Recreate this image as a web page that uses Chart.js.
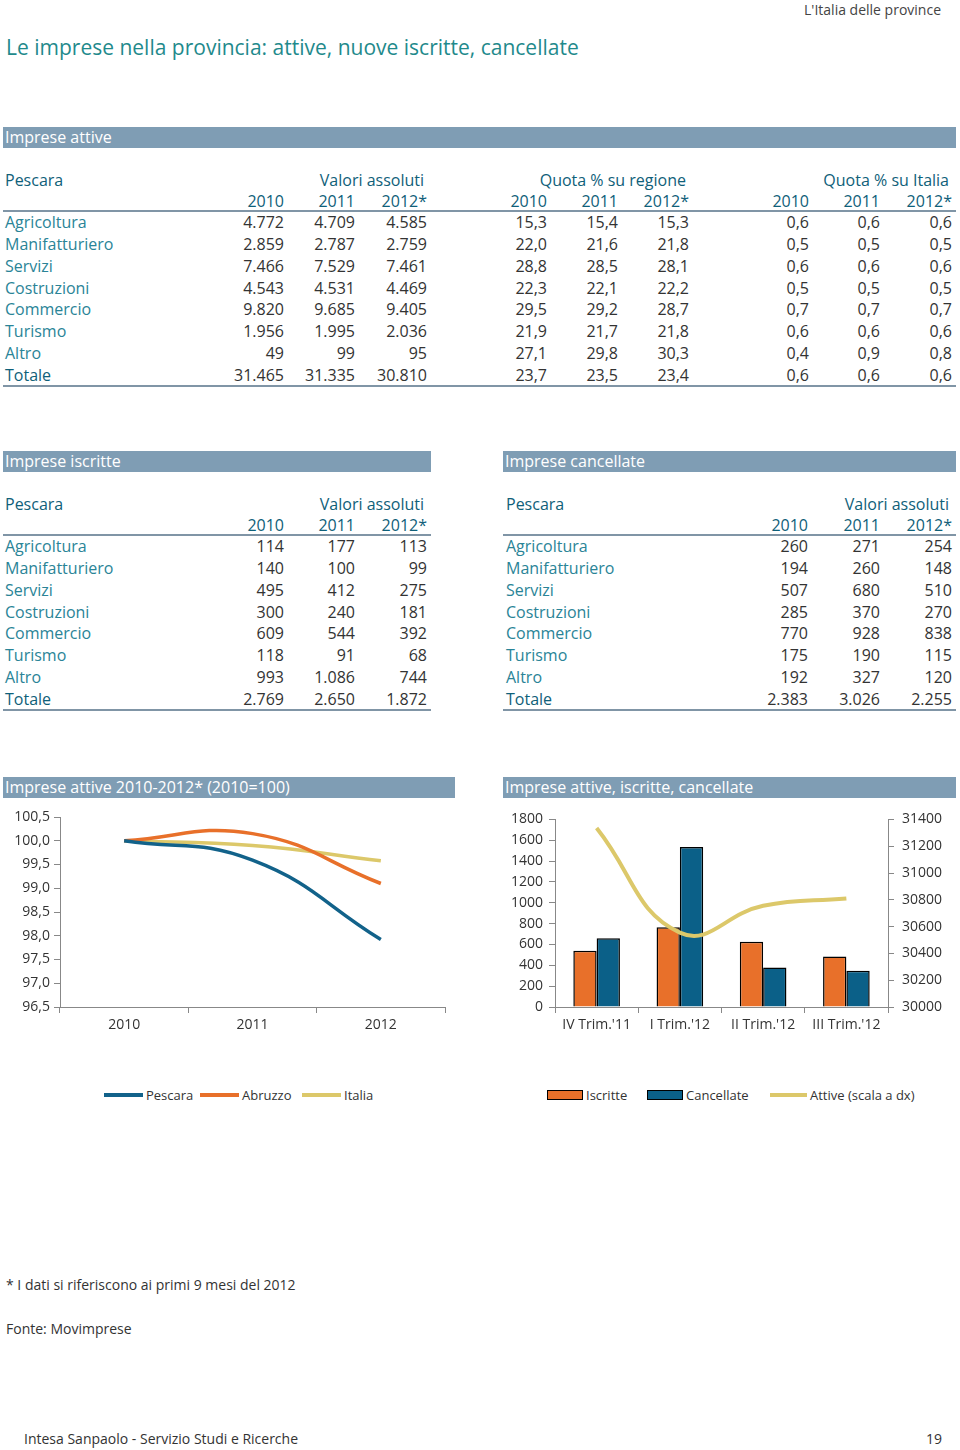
<!DOCTYPE html>
<html>
<head>
<meta charset="utf-8">
<script src="https://cdn.jsdelivr.net/npm/chart.js@4.4.1/dist/chart.umd.min.js"></script>
<style>
  body { margin: 0; width: 960px; height: 1450px; background: #fff; font-family: "Open Sans", "Noto Sans", sans-serif; position: relative; overflow: hidden; }
  .abs { position: absolute; white-space: nowrap; }
  .band { position: absolute; height: 21px; background: #7f9db4; color: #fff; font-size: 16px; line-height: 21px; padding-left: 2px; box-sizing: border-box; }
  .rule { position: absolute; height: 2px; background: #8095a6; }
  .lbl { color: #2a8497; font-size: 16px; }
  .hd { color: #0f6079; font-size: 16px; }
  .num { color: #333; font-size: 16px; text-align: right; }
  .leg { position: absolute; font-size: 13px; color: #333; display: flex; align-items: center; }
  .leg i { display: inline-block; margin-right: 3px; }
</style>
</head>
<body>
<div class="abs" style="right:19px; top:0px; font-size:14px; color:#444;">L'Italia delle province</div>
<div class="abs" style="left:6px; top:33px; font-size:21px; color:#1f8a8c;">Le imprese nella provincia: attive, nuove iscritte, cancellate</div>

<div id="page"></div>

<div class="abs" style="left:6px; top:1275px; font-size:14px; color:#333;">* I dati si riferiscono ai primi 9 mesi del 2012</div>
<div class="abs" style="left:6px; top:1319px; font-size:14px; color:#333;">Fonte: Movimprese</div>
<div class="abs" style="left:24px; top:1429px; font-size:14px; color:#333;">Intesa Sanpaolo - Servizio Studi e Ricerche</div>
<div class="abs" style="right:18px; top:1429px; font-size:14px; color:#333;">19</div>

<div class="band" style="left:3px; top:777px; width:452px;">Imprese attive 2010-2012* (2010=100)</div>
<div class="band" style="left:503px; top:777px; width:453px;">Imprese attive, iscritte, cancellate</div>
<div class="abs" style="left:0; top:803px; width:460px; height:237px;"><canvas id="lineChart"></canvas></div>
<div class="abs" style="left:500px; top:803px; width:460px; height:237px;"><canvas id="barChart"></canvas></div>

<div class="leg" style="left:104px; top:1086px;"><i style="width:39px;height:4px;background:#12628a"></i>Pescara</div>
<div class="leg" style="left:200px; top:1086px;"><i style="width:39px;height:4px;background:#e8702a"></i>Abruzzo</div>
<div class="leg" style="left:302px; top:1086px;"><i style="width:39px;height:4px;background:#dcc86a"></i>Italia</div>
<div class="leg" style="left:547px; top:1086px;"><i style="width:34px;height:8px;background:#e8702a;border:1px solid #000"></i>Iscritte</div>
<div class="leg" style="left:647px; top:1086px;"><i style="width:34px;height:8px;background:#0b6088;border:1px solid #000"></i>Cancellate</div>
<div class="leg" style="left:770px; top:1086px;"><i style="width:37px;height:4px;background:#dcc86a"></i>Attive (scala a dx)</div>

<script>
// ---- table data ----
const sectors = ['Agricoltura', 'Manifatturiero', 'Servizi', 'Costruzioni', 'Commercio', 'Turismo', 'Altro', 'Totale'];
const tableYears = ['2010', '2011', '2012*'];

const attiveAbs = [
  ['4.772', '4.709', '4.585'], ['2.859', '2.787', '2.759'], ['7.466', '7.529', '7.461'], ['4.543', '4.531', '4.469'],
  ['9.820', '9.685', '9.405'], ['1.956', '1.995', '2.036'], ['49', '99', '95'], ['31.465', '31.335', '30.810']
];
const attiveRegione = [
  ['15,3', '15,4', '15,3'], ['22,0', '21,6', '21,8'], ['28,8', '28,5', '28,1'], ['22,3', '22,1', '22,2'],
  ['29,5', '29,2', '28,7'], ['21,9', '21,7', '21,8'], ['27,1', '29,8', '30,3'], ['23,7', '23,5', '23,4']
];
const attiveItalia = [
  ['0,6', '0,6', '0,6'], ['0,5', '0,5', '0,5'], ['0,6', '0,6', '0,6'], ['0,5', '0,5', '0,5'],
  ['0,7', '0,7', '0,7'], ['0,6', '0,6', '0,6'], ['0,4', '0,9', '0,8'], ['0,6', '0,6', '0,6']
];
const iscritteAbs = [
  ['114', '177', '113'], ['140', '100', '99'], ['495', '412', '275'], ['300', '240', '181'],
  ['609', '544', '392'], ['118', '91', '68'], ['993', '1.086', '744'], ['2.769', '2.650', '1.872']
];
const cancellateAbs = [
  ['260', '271', '254'], ['194', '260', '148'], ['507', '680', '510'], ['285', '370', '270'],
  ['770', '928', '838'], ['175', '190', '115'], ['192', '327', '120'], ['2.383', '3.026', '2.255']
];

// ---- chart data ----
const indexYears = ['2010', '2011', '2012'];
const indexPescara = [100, 99.59, 97.92];
const indexAbruzzo = [100, 100.15, 99.1];
const indexItalia = [100, 99.9, 99.58];

const quarters = ["IV Trim.'11", "I Trim.'12", "II Trim.'12", "III Trim.'12"];
const iscritteQ = [540, 765, 625, 485];
const cancellateQ = [660, 1535, 378, 348];
const attiveQ = [31335, 30555, 30755, 30810];

// ---- build tables ----
const page = document.getElementById('page');
function el(cls, style, text) {
  const d = document.createElement('div');
  d.className = cls;
  d.style.cssText = style;
  if (text !== undefined) d.textContent = text;
  page.appendChild(d);
  return d;
}
function txt(cls, x, y, text, right) {
  // y is text centre
  const s = right ? `right:${960 - x}px;` : `left:${x}px;`;
  el('abs ' + cls, s + `top:${y - 11}px; line-height:22px;`, text);
}

function block(top, left, width, title, labelX, groups) {
  el('band', `left:${left}px; top:${top}px; width:${width}px;`, title);
  const yHead = top + 53, yYears = top + 74, y0 = top + 95, step = 21.85;
  txt('hd', labelX, yHead, 'Pescara');
  groups.forEach(g => {
    txt('hd', g.cols[2] - 3, yHead, g.head, true);
    tableYears.forEach((yr, j) => txt('hd', g.cols[j], yYears, yr, true));
    g.data.forEach((row, i) => {
      row.forEach((v, j) => txt('num', g.cols[j], y0 + i * step, v, true));
    });
  });
  el('rule', `left:${left}px; top:${top + 83}px; width:${width}px;`);
  sectors.forEach((s, i) => txt(i === 7 ? 'hd' : 'lbl', labelX, y0 + i * step, s));
  el('rule', `left:${left}px; top:${top + 258}px; width:${width}px;`);
}

block(127, 3, 953, 'Imprese attive', 5, [
  { head: 'Valori assoluti', cols: [284, 355, 427], data: attiveAbs },
  { head: 'Quota % su regione', cols: [547, 618, 689], data: attiveRegione },
  { head: 'Quota % su Italia', cols: [809, 880, 952], data: attiveItalia }
]);
block(451, 3, 428, 'Imprese iscritte', 5, [
  { head: 'Valori assoluti', cols: [284, 355, 427], data: iscritteAbs }
]);
block(451, 503, 453, 'Imprese cancellate', 506, [
  { head: 'Valori assoluti', cols: [808, 880, 952], data: cancellateAbs }
]);

// ---- charts ----
Chart.defaults.font.family = '"Open Sans", "Noto Sans", sans-serif';
Chart.defaults.font.size = 14;
Chart.defaults.color = '#333';

const axisGrid = { drawOnChartArea: false, tickLength: 6, color: '#888' };

new Chart(document.getElementById('lineChart'), {
  type: 'line',
  data: {
    labels: indexYears,
    datasets: [
      { label: 'Pescara', data: indexPescara, borderColor: '#12628a', borderWidth: 3.5, tension: 0.45, pointRadius: 0 },
      { label: 'Abruzzo', data: indexAbruzzo, borderColor: '#e8702a', borderWidth: 3.5, tension: 0.45, pointRadius: 0 },
      { label: 'Italia', data: indexItalia, borderColor: '#dcc86a', borderWidth: 3.5, tension: 0.45, pointRadius: 0 }
    ]
  },
  options: {
    responsive: true, maintainAspectRatio: false, animation: false,
    layout: { padding: { top: 14, right: 15, left: 0, bottom: 0 } },
    plugins: { legend: { display: false }, tooltip: { enabled: false } },
    scales: {
      x: {
        offset: true,
        grid: { ...axisGrid, offset: true },
        border: { color: '#888' },
        ticks: { padding: 4 },
        afterFit: s => { s.height = 33; }
      },
      y: {
        min: 96.5, max: 100.5,
        grid: axisGrid,
        border: { color: '#888' },
        ticks: { stepSize: 0.5, padding: 4, callback: v => v.toFixed(1).replace('.', ',') },
        afterFit: s => { s.width = 60; }
      }
    }
  }
});

new Chart(document.getElementById('barChart'), {
  type: 'bar',
  data: {
    labels: quarters,
    datasets: [
      { type: 'line', label: 'Attive (scala a dx)', data: attiveQ, yAxisID: 'y1', borderColor: '#dcc86a', borderWidth: 4, tension: 0.45, pointRadius: 0, order: 0 },
      { label: 'Iscritte', data: iscritteQ, backgroundColor: '#e8702a', borderColor: '#000', borderWidth: 1.5, categoryPercentage: 0.56, barPercentage: 1, order: 1 },
      { label: 'Cancellate', data: cancellateQ, backgroundColor: '#0b6088', borderColor: '#000', borderWidth: 1.5, categoryPercentage: 0.56, barPercentage: 1, order: 1 }
    ]
  },
  options: {
    responsive: true, maintainAspectRatio: false, animation: false,
    layout: { padding: { top: 14, right: 0, left: 0, bottom: 0 } },
    plugins: { legend: { display: false }, tooltip: { enabled: false } },
    scales: {
      x: {
        grid: { ...axisGrid, offset: true },
        border: { color: '#888' },
        ticks: { padding: 4 },
        afterFit: s => { s.height = 33; }
      },
      y: {
        min: 0, max: 1800,
        grid: axisGrid,
        border: { color: '#888' },
        ticks: { stepSize: 200, padding: 6, callback: v => String(v) },
        afterFit: s => { s.width = 55; }
      },
      y1: {
        position: 'right',
        min: 30000, max: 31400,
        grid: axisGrid,
        border: { color: '#888' },
        ticks: { stepSize: 200, padding: 8, callback: v => String(v) },
        afterFit: s => { s.width = 72; }
      }
    }
  }
});
</script>
</body>
</html>
